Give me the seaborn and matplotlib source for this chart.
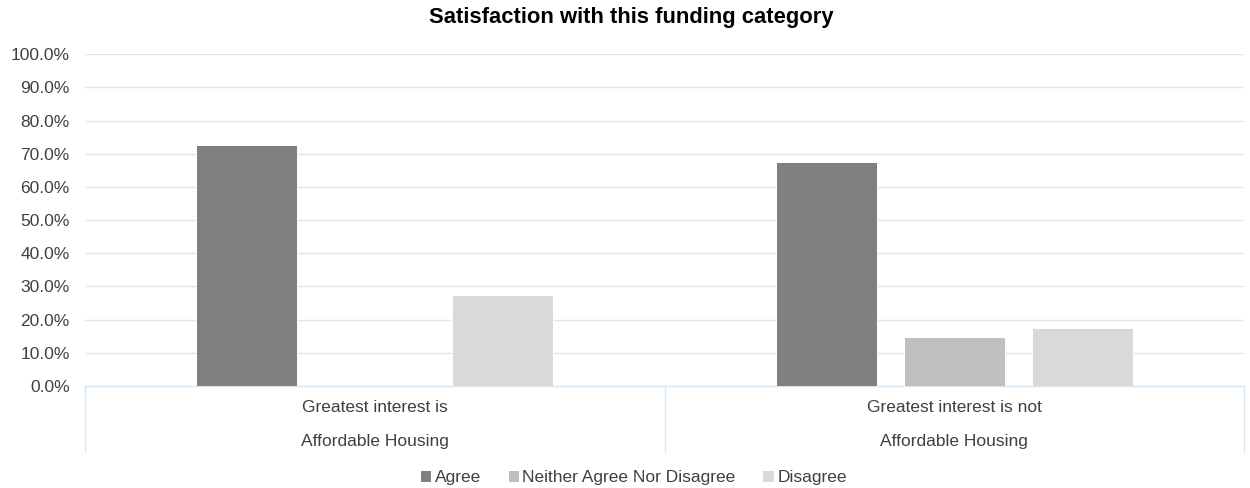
import matplotlib
matplotlib.use("Agg")
import matplotlib.pyplot as plt
from matplotlib.patches import Patch
from matplotlib.ticker import PercentFormatter
import pandas as pd
import seaborn as sns

# Survey results (share of respondents)
groups = ["Greatest interest is\nAffordable Housing",
          "Greatest interest is not\nAffordable Housing"]
responses = ["Agree", "Neither Agree Nor Disagree", "Disagree"]
agree = [0.727, 0.676]
neither = [0.0, 0.147]
disagree = [0.273, 0.176]

colors = ["#808080", "#bfbfbf", "#d9d9d9"]
grid_color = "#d3e8f8"
text_color = "#404040"

df = pd.DataFrame({
    "group": groups * 3,
    "response": [r for r in responses for _ in groups],
    "value": agree + neither + disagree,
})

sns.set_style("white")
plt.rcParams["font.family"] = ["Liberation Sans", "DejaVu Sans"]

fig = plt.figure(figsize=(12.5, 4.88), dpi=100)
ax = fig.add_axes([0.068, 0.209, 0.9272, 0.680])

sns.barplot(data=df, x="group", y="value", hue="response",
            hue_order=responses, order=groups, palette=colors,
            width=0.662, gap=0.21, errorbar=None, legend=False,
            edgecolor="white", linewidth=0.7, ax=ax, zorder=3)

ax.set_xlim(-0.5, 1.5)
ax.set_ylim(0, 1.0)
ax.set_yticks([i / 10 for i in range(11)])
ax.yaxis.set_major_formatter(PercentFormatter(1.0, decimals=1))
ax.grid(axis="y", color=grid_color, linewidth=1.0, zorder=0)
ax.set_axisbelow(True)

for side in ["left", "right", "top"]:
    ax.spines[side].set_visible(False)
ax.spines["bottom"].set_color(grid_color)
ax.spines["bottom"].set_linewidth(1.0)

ax.set_xticks(range(len(groups)), labels=groups, linespacing=2.6)
ax.tick_params(axis="y", length=0, pad=11, labelsize=12.5, labelcolor=text_color)
ax.tick_params(axis="x", length=0, pad=10, labelsize=12.5, labelcolor=text_color)
ax.set_xlabel("")
ax.set_ylabel("")

# category axis box below the plot
tr = ax.get_xaxis_transform()
for xpos in [-0.5, 0.5, 1.5]:
    ax.plot([xpos, xpos], [0, -0.198], transform=tr, color=grid_color,
            linewidth=1.0, clip_on=False, zorder=1)

fig.suptitle("Satisfaction with this funding category", x=0.505, y=0.986,
             fontsize=15.8, fontweight="bold", color="#000000")

handles = [Patch(facecolor=c, edgecolor="none", label=r)
           for c, r in zip(colors, responses)]
fig.legend(handles=handles, loc="center", bbox_to_anchor=(0.507, 0.021),
           ncol=3, frameon=False, fontsize=12.5, labelcolor=text_color,
           handlelength=0.6, handleheight=0.6, handletextpad=0.2,
           columnspacing=1.6)

fig.savefig("out.png", dpi=100)
